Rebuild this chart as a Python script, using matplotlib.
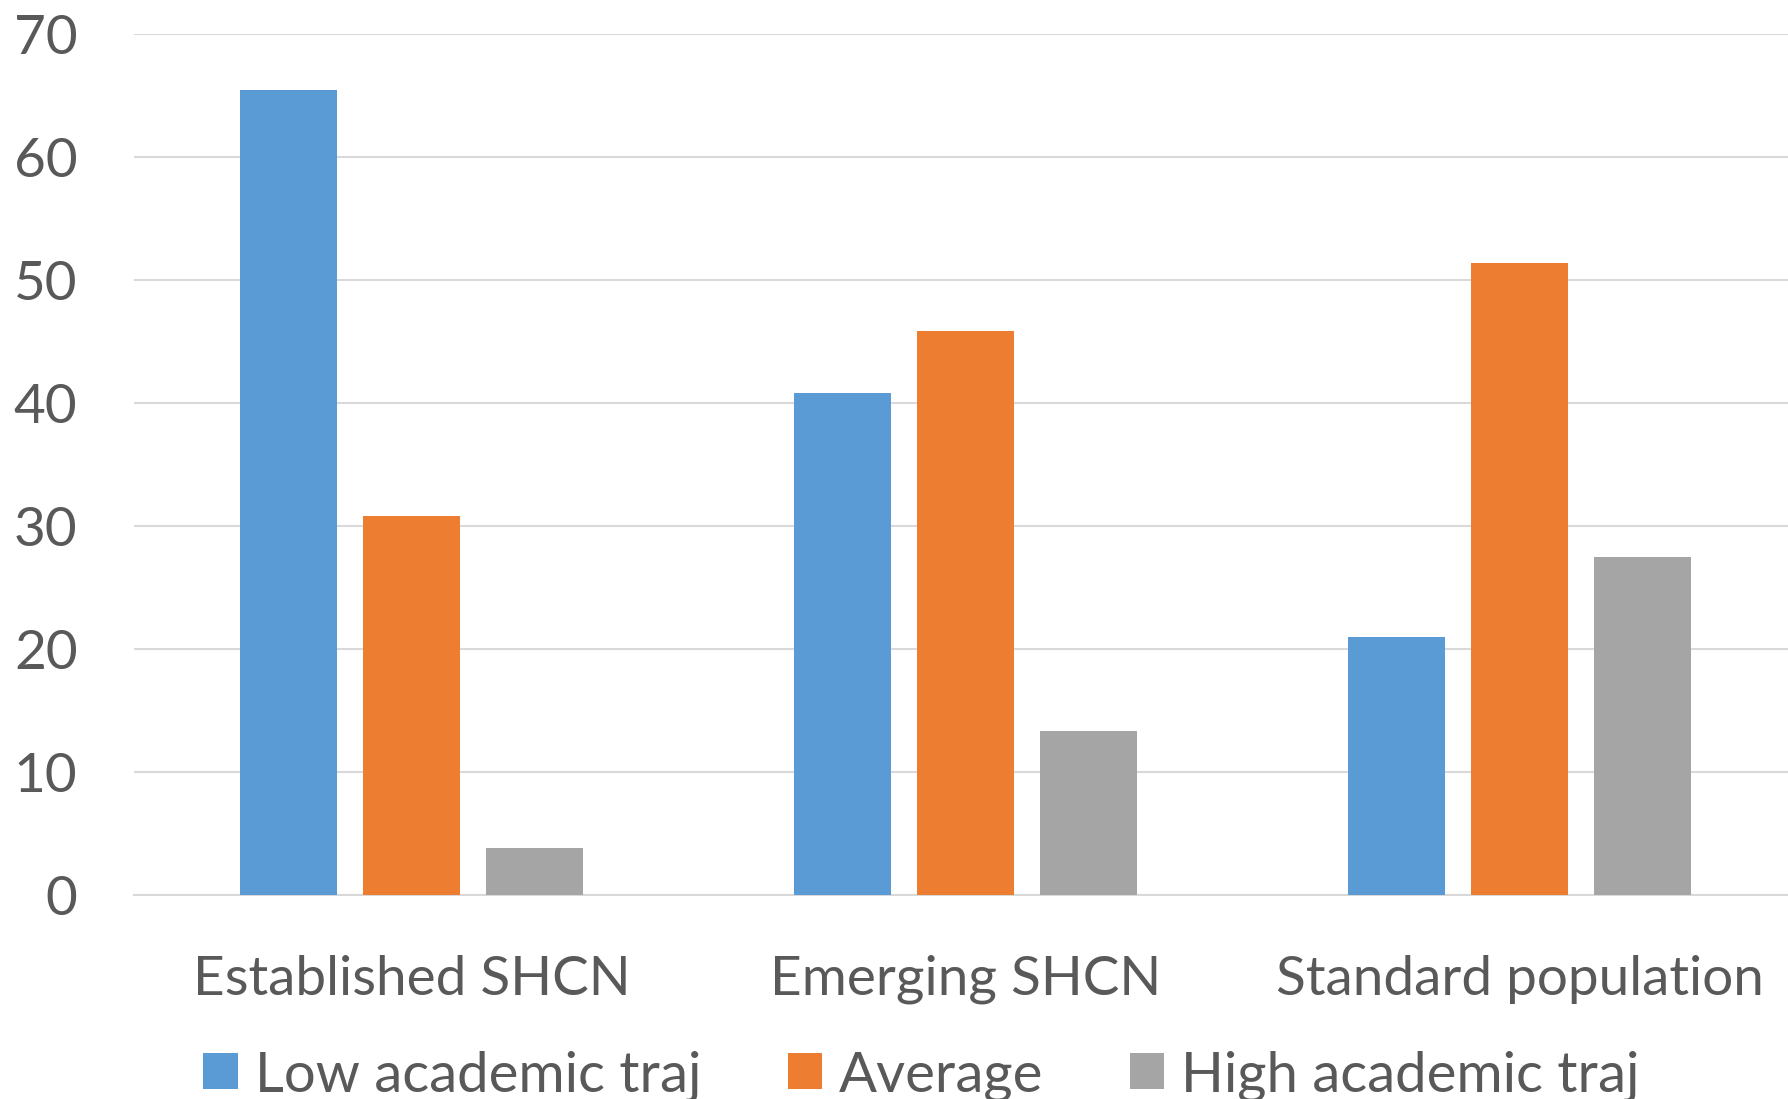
import numpy as np
import matplotlib
matplotlib.use("Agg")
import matplotlib.pyplot as plt

# Dane wykresu
categories = ["Established SHCN", "Emerging SHCN", "Standard population"]
series_names = ["Low academic traj", "Average", "High academic traj"]
low_traj = [65.4, 40.8, 21.0]
average = [30.8, 45.8, 51.4]
high_traj = [3.8, 13.3, 27.5]
y_ticks = [0, 10, 20, 30, 40, 50, 60, 70]

colors = ["#5B9BD5", "#ED7D31", "#A5A5A5"]
text_color = "#595959"

plt.rcParams["font.family"] = ["Lato", "DejaVu Sans"]

fig = plt.figure(figsize=(17.88, 10.99), dpi=100)
ax = fig.add_axes([0.0752, 0.1856, 0.9296, 0.7837])

x = np.arange(len(categories))
width = 0.175
step = 0.222
for i, (vals, name) in enumerate(zip([low_traj, average, high_traj], series_names)):
    ax.bar(x + (i - 1) * step, vals, width, color=colors[i], label=name, zorder=3)

ax.set_xlim(-0.5, 2.5)
ax.set_ylim(0, 70)
ax.set_yticks(y_ticks)
ax.set_xticks(x)
ax.set_xticklabels(categories)
ax.grid(axis="y", color="#D9D9D9", linewidth=1.5, zorder=0)
ax.set_axisbelow(True)
for s in ["top", "right", "left"]:
    ax.spines[s].set_visible(False)
ax.spines["bottom"].set_color("#D9D9D9")
ax.spines["bottom"].set_linewidth(1.5)
ax.tick_params(axis="both", length=0, labelsize=39.5, colors=text_color)
ax.tick_params(axis="y", pad=41)
ax.tick_params(axis="x", pad=43)

fig.legend(loc="center", bbox_to_anchor=(0.5154, 0.021), ncol=3, frameon=False,
           fontsize=40.5, labelcolor=text_color, handlelength=0.61, handleheight=0.61,
           handletextpad=0.3, columnspacing=1.54)

fig.savefig("out.png", dpi=100)
